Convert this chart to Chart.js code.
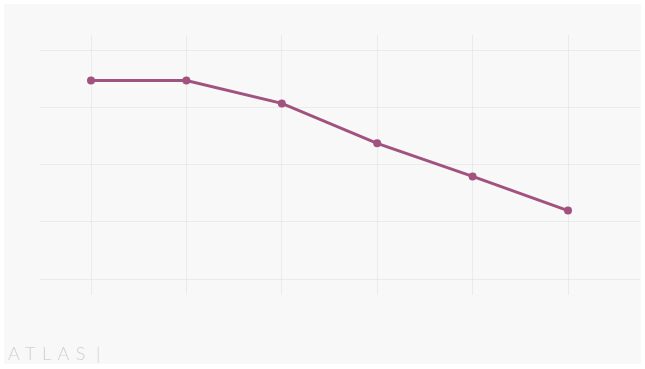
<!DOCTYPE html>
<html lang="en">
<head>
  <meta charset="UTF-8" />
  <title>Line chart</title>
  <script src="https://cdn.jsdelivr.net/npm/chart.js@4.4.0/dist/chart.umd.min.js"></script>
  <style>
    * { box-sizing: border-box; }
    html, body { margin: 0; padding: 0; background: #ffffff; }
    body { width: 645px; height: 369px; position: relative; overflow: hidden; }

    /* light grey card behind the chart */
    .card {
      position: absolute;
      left: 4px; top: 4px;
      width: 637px; height: 360px;
      background: #f8f8f8;
    }
    .chart-box {
      position: absolute;
      left: 0; top: 0;
      width: 645px; height: 369px;
    }
    /* watermark */
    .brand {
      position: absolute;
      left: 8px; top: 342px;
      font-family: Lato, "Open Sans", sans-serif;
      font-weight: 300;
      font-size: 18px;
      letter-spacing: 6.5px;
      color: #d0d0d0;
    }
    .brand span { letter-spacing: 0; margin-left: 4px; font-weight: 300; }
  </style>
</head>
<body>
  <div class="card"></div>
  <div class="chart-box"><canvas id="chart" width="645" height="369"></canvas></div>
  <div class="brand">ATLAS<span>|</span></div>

  <script>
    // data (axis labels are not shown in the original)
    var categories = ["1", "2", "3", "4", "5", "6"];
    var values     = [87, 87, 77, 59.5, 45, 30];
    var yTicks     = [0, 25, 50, 75, 100];

    var lineColor = "#a2527f";
    var gridColor = "rgba(0,0,0,0.05)";

    function setTicks(scale) {
      scale.ticks = yTicks.map(function (v) { return { value: v }; });
    }

    new Chart(document.getElementById("chart"), {
      type: "line",
      data: {
        labels: categories,
        datasets: [{
          data: values,
          borderColor: lineColor,
          backgroundColor: lineColor,
          borderWidth: 3,
          pointRadius: 4,
          pointHoverRadius: 5,
          pointBorderWidth: 0,
          tension: 0,
          fill: false
        }]
      },
      options: {
        responsive: false,
        animation: false,
        layout: { padding: { left: 40, right: 5, top: 35, bottom: 74 } },
        plugins: { legend: { display: false }, tooltip: { enabled: false } },
        scales: {
          x: {
            type: "category",
            offset: false,
            border: { display: false },
            grid: { color: gridColor, tickLength: 16, lineWidth: 1 },
            ticks: { display: false }
          },
          y: {
            position: "left",
            min: 0, max: 107,
            bounds: "data",
            border: { display: false },
            grid: { color: gridColor, tickLength: 51 },
            ticks: { display: false },
            afterBuildTicks: setTicks
          },
          y2: {
            position: "right",
            min: 0, max: 107,
            bounds: "data",
            border: { display: false },
            grid: { color: gridColor, drawOnChartArea: false, tickLength: 72 },
            ticks: { display: false },
            afterBuildTicks: setTicks
          }
        }
      }
    });
  </script>
</body>
</html>
